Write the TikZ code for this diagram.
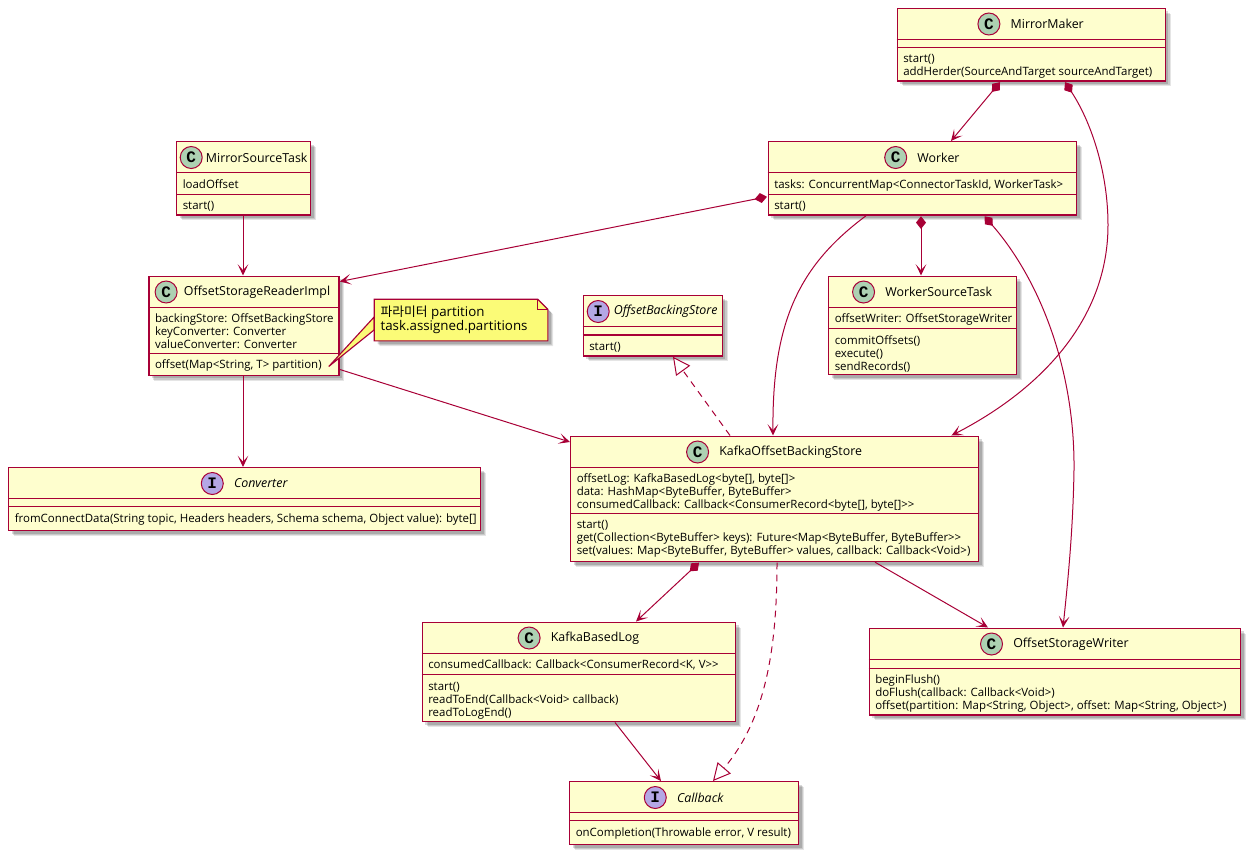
\documentclass[tikz,border=0pt]{standalone}
\usepackage{fontspec}
\setmainfont{Open Sans}
\newfontfamily\krfont{Noto Sans CJK KR}
\newfontfamily\iconfont{Liberation Mono}
\usetikzlibrary{arrows.meta,positioning,calc,shadows}
\definecolor{umlred}{RGB}{168,0,54}
\definecolor{umlfill}{RGB}{254,254,206}
\definecolor{iconc}{RGB}{173,209,178}
\definecolor{iconi}{RGB}{180,167,229}
\definecolor{notefill}{RGB}{251,251,119}
\tikzset{
  umlshadow/.style={drop shadow={shadow xshift=4pt,shadow yshift=-4pt,fill=black,opacity=0.1},
    drop shadow={shadow xshift=3.2pt,shadow yshift=-3.2pt,fill=black,opacity=0.12},
    drop shadow={shadow xshift=2.4pt,shadow yshift=-2.4pt,fill=black,opacity=0.15}},
  cls/.style={draw=umlred,fill=umlfill,line width=1.1pt,anchor=north west,inner sep=0pt,umlshadow},
  ttl/.style={font=\fontsize{9.3}{11}\selectfont,inner sep=0pt},
  txt/.style={font=\fontsize{8.6}{9.75}\selectfont,align=left,inner sep=0pt,anchor=north west},
  icon/.style={circle,draw=umlred,line width=0.75pt,minimum size=16.5pt,inner sep=0pt,font=\iconfont\fontsize{12}{12}\selectfont\bfseries},
  rel/.style={draw=umlred,line width=0.75pt,-{Stealth[length=8.5pt,width=8pt,inset=4.5pt]}},
  comp/.style={draw=umlred,line width=0.75pt,{Diamond[length=9.5pt,width=7.5pt]}-{Stealth[length=8.5pt,width=8pt,inset=4.5pt]}},
  impl/.style={draw=umlred,line width=0.75pt,dash pattern=on 5pt off 4pt,-{Triangle[open,length=13pt,width=13pt,fill=white]}},
  notetxt/.style={font=\fontsize{10}{10.8}\selectfont,align=left,inner sep=0pt,anchor=north west},
  notebox/.style={draw=umlred,fill=notefill,line width=0.85pt}
}
\begin{document}
\begin{tikzpicture}[x=0.75pt,y=-0.75pt]
% kind, name, corner, width, height, fields band, title, fields, methods
\newcommand{\umlclass}[9][C]{
  \node[cls,minimum width=#4*0.75pt,minimum height=#5*0.75pt] (#2) at (#3) {};
  \coordinate (#2-a) at ($(#2.north west)+(0,31.7)$);
  \coordinate (#2-b) at ($(#2-a)+(0,#6)$);
  \draw[draw=umlred,line width=1pt] (#2-a) -- (#2-a -| #2.east) (#2-b) -- (#2-b -| #2.east);
  \node[ttl] (#2-t) at ($(#2.north)+(\ttlshift,16.5)$) {\ifx C#1 #7\else\itshape #7\fi};
  \ifx C#1\node[icon,fill=iconc,left=\ttlgap pt of #2-t] (#2-i) {C};\else\node[icon,fill=iconi,left=\ttlgap pt of #2-t] (#2-i) {I};\fi
  \node[txt] (#2-f) at ($(#2-a)+(6.5,5.7)$) {\rule{0pt}{7pt}#8};
  \node[txt] (#2-m) at ($(#2-b)+(6.5,5.7)$) {\rule{0pt}{7pt}#9};
}
\newcommand{\ttlshift}{16}
\newcommand{\ttlgap}{7.5}
\useasboundingbox (0,0) rectangle (1253,854);
\umlclass{mirror}{896.5,7.5}{268}{72.7}{8}{MirrorMaker}{}{start()\\addHerder(SourceAndTarget sourceAndTarget)}
\umlclass{worker}{767.5,141}{308.5}{73.3}{21.5}{Worker}{tasks: ConcurrentMap<ConnectorTaskId, WorkerTask>}{start()}
\renewcommand{\ttlshift}{13}\renewcommand{\ttlgap}{2.25}
\umlclass{mst}{176,141}{134}{73.3}{21.5}{MirrorSourceTask}{loadOffset}{start()}
\renewcommand{\ttlgap}{4.5}
\umlclass{reader}{148.3,275.5}{190}{99}{46}{OffsetStorageReaderImpl}{backingStore: OffsetBackingStore\\keyConverter: Converter\\valueConverter: Converter}{offset(Map<String, T> partition)}
\renewcommand{\ttlgap}{3}
\umlclass[I]{obs}{582.5,295}{139}{60.3}{8.3}{OffsetBackingStore}{}{start()}
\renewcommand{\ttlshift}{16}\renewcommand{\ttlgap}{7.5}
\umlclass{wst}{828,275.5}{188}{98.5}{21.5}{WorkerSourceTask}{offsetWriter: OffsetStorageWriter}{commitOffsets()\\execute()\\sendRecords()}
\umlclass[I]{conv}{8,467}{472}{63}{8}{Converter}{}{fromConnectData(String topic, Headers headers, Schema schema, Object value): byte[]}
\umlclass{kafka}{570,435.5}{408}{125.2}{46}{KafkaOffsetBackingStore}{offsetLog: KafkaBasedLog<byte[], byte[]>\\data: HashMap<ByteBuffer, ByteBuffer>\\consumedCallback: Callback<ConsumerRecord<byte[], byte[]>\kern0pt>}{start()\\get(Collection<ByteBuffer> keys): Future<Map<ByteBuffer, ByteBuffer>\kern0pt>\\set(values: Map<ByteBuffer, ByteBuffer> values, callback: Callback<Void>)}
\umlclass{kbl}{421.5,621.5}{313.5}{99.5}{21.5}{KafkaBasedLog}{consumedCallback: Callback<ConsumerRecord<K, V>\kern0pt>}{start()\\readToEnd(Callback<Void> callback)\\readToLogEnd()}
\umlclass{osw}{868.5,627.5}{371.5}{86.7}{9}{OffsetStorageWriter}{}{beginFlush()\\doFlush(callback: Callback<Void>)\\offset(partition: Map<String, Object>, offset: Map<String, Object>)}
\umlclass[I]{cb}{569,781}{229}{63}{8}{Callback}{}{onCompletion(Throwable error, V result)}
\node[anchor=north west,minimum width=173*0.75pt,minimum height=41*0.75pt,inner sep=0pt] (note) at (374.3,299.3) {};
\coordinate (wedge) at ($(reader.south east)+(-11,-9.5)$);
\path[notebox] (wedge) -- ($(note.north west)+(0,17.5)$) -- ($(note.north west)+(0,30.5)$) -- cycle;
\path[notebox,umlshadow] (note.north west) -- ($(note.north east)+(-10,0)$) -- ($(note.north east)+(0,10)$) -- (note.south east) -- (note.south west) -- cycle;
\draw[notebox,fill=none] ($(note.north east)+(-10,0)$) -- ($(note.north east)+(-10,10)$) -- ($(note.north east)+(0,10)$);
\node[notetxt] (notetext) at ($(note.north west)+(6,5)$) {\rule{0pt}{9pt}{\krfont\fontsize{9.6}{10.8}\selectfont 파라미터} partition\\task.assigned.partitions};
\draw[comp] ($(mirror.south west)+(103.5,0.5)$) -- (worker.north-|951,0);
\draw[comp] ($(mirror.south west)+(168.5,0.5)$) .. controls (1090,120) and (1108,170) .. (1108,225) .. controls (1108,320) and (1040,390) .. ($(kafka.north east)+(-28,0)$);
\draw[comp] ($(worker.south west)+(-0.5,-19)$) -- ($(reader.north east)+(0,6)$);
\draw[rel] ($(worker.south west)+(98.5,0)$) .. controls (800,265) and (772,320) .. ($(kafka.north west)+(203,0)$);
\draw[comp] ($(worker.south west)+(153.5,0.5)$) -- ($(wst.north west)+(93,0)$);
\draw[comp] ($(worker.south west)+(217,0.5)$) .. controls (1040,280) and (1075,370) .. (1074,470) .. controls (1073,530) and (1068,580) .. ($(osw.north west)+(194.5,0)$);
\draw[rel] (mst.south-|243,0) -- (reader.north-|243,0);
\draw[rel] (reader.south-|243,0) -- (conv.north-|243,0);
\draw[rel] ($(reader.south east)+(0,-6.5)$) -- ($(kafka.north west)+(0,6.5)$);
\draw[impl] ($(kafka.north west)+(160,0)$) -- ($(obs.south west)+(90.5,0)$);
\draw[comp] ($(kafka.south west)+(129,0.5)$) -- ($(kbl.north west)+(214.5,0)$);
\draw[impl] ($(kafka.south west)+(207,0.5)$) .. controls (777,650) and (765,720) .. ($(cb.north west)+(144,0)$);
\draw[rel] ($(kafka.south west)+(305,0)$) -- ($(osw.north west)+(119.5,0)$);
\draw[rel] ($(kbl.south west)+(193.5,0)$) -- ($(cb.north west)+(92,0)$);
\end{tikzpicture}
\end{document}
